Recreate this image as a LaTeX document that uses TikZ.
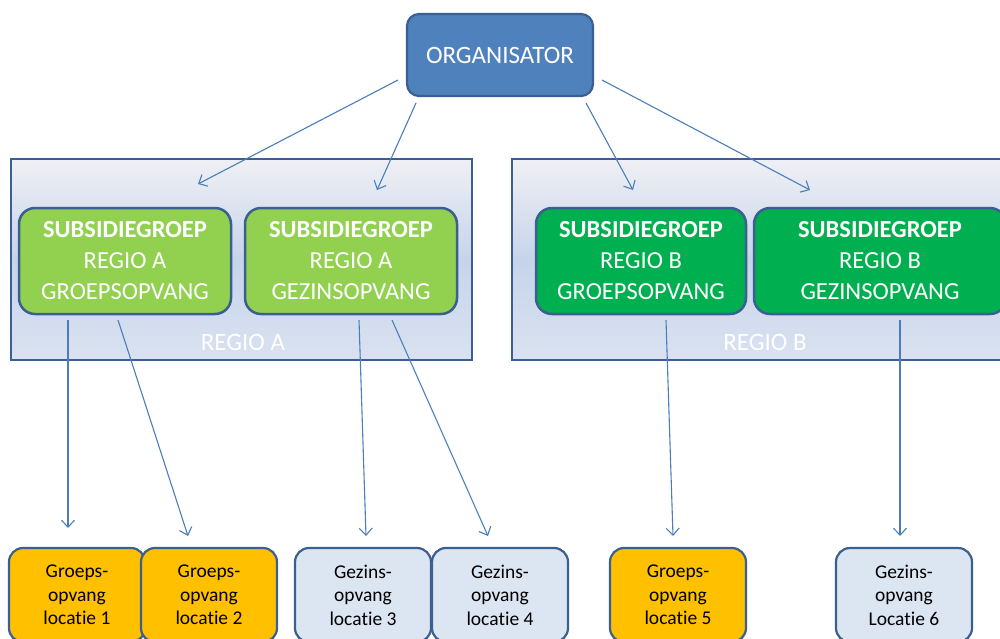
\documentclass[tikz,border=0pt]{standalone}
\usepackage{fontspec}
\setmainfont{Carlito}[Ligatures=NoCommon]
\usetikzlibrary{arrows.meta}
\definecolor{orgblue}{HTML}{4F81BD}
\definecolor{edgeblue}{HTML}{3C5F92}
\definecolor{lightgrn}{HTML}{92D050}
\definecolor{darkgrn}{HTML}{00B050}
\definecolor{amber}{HTML}{FFC000}
\definecolor{paleblue}{HTML}{DCE6F2}
\definecolor{regtop}{HTML}{EFF0F4}
\definecolor{regmid}{HTML}{C6D4EB}
\definecolor{regbot}{HTML}{DAE2F0}
\definecolor{arrowblue}{HTML}{4A7EBB}
\tikzset{
  orgbox/.style={draw=edgeblue,line width=2.2pt,fill=orgblue,rounded corners=12pt,
    minimum width=186pt,minimum height=82pt,text=white,
    font=\fontsize{25}{31}\selectfont},
  subbox/.style={draw=edgeblue,line width=2.5pt,rounded corners=16pt,
    minimum width=212pt,minimum height=106pt,text=white,align=center,inner sep=0pt,
    font=\fontsize{24.5}{31}\selectfont},
  regbox/.style={draw=edgeblue,line width=2pt,minimum height=201pt,inner sep=0pt,
    top color=regtop,bottom color=regbot,middle color=regmid},
  reglbl/.style={text=white,font=\fontsize{25}{31}\selectfont,inner sep=0pt},
  locbox/.style={draw=edgeblue,line width=2.2pt,rounded corners=14pt,
    minimum width=136pt,minimum height=94pt,align=center,inner sep=0pt,
    font=\fontsize{19.5}{23.5}\selectfont},
  conn/.style={draw=arrowblue,line width=1.1pt,-{Straight Barb[length=7pt,width=13pt]}}
}
\begin{document}
\begin{tikzpicture}[x=1pt,y=-1pt]
\clip (0,0) rectangle (1000,638);
\fill[white] (0,0) rectangle (1000,638);
% regions
\node[regbox,minimum width=461pt] (regA) at (241.5,259.5) {};
\node[regbox,minimum width=500pt] (regB) at (762,259.5) {};
\node[reglbl] (regAlbl) at (243,342) {REGIO A};
\node[reglbl] (regBlbl) at (765,342) {REGIO B};
% top
\node[orgbox] (org) at (500,55) {ORGANISATOR};
% subsidiegroepen
\node[subbox,fill=lightgrn] (subA1) at (125,261) {\textbf{SUBSIDIEGROEP}\\REGIO A\\GROEPSOPVANG};
\node[subbox,fill=lightgrn] (subA2) at (351,261) {\textbf{SUBSIDIEGROEP}\\REGIO A\\GEZINSOPVANG};
\node[subbox,fill=darkgrn,minimum width=210pt] (subB1) at (641,261) {\textbf{SUBSIDIEGROEP}\\REGIO B\\GROEPSOPVANG};
\node[subbox,fill=darkgrn,minimum width=252pt] (subB2) at (880,261) {\textbf{SUBSIDIEGROEP}\\REGIO B\\GEZINSOPVANG};
% locaties
\foreach \x/\name/\col/\txt in {77/loc1/amber/{Groeps-\\opvang\\locatie 1},
    209/loc2/amber/{Groeps-\\opvang\\locatie 2},
    363/loc3/paleblue/{Gezins-\\opvang\\locatie 3},
    500/loc4/paleblue/{Gezins-\\opvang\\locatie 4},
    678/loc5/amber/{Groeps-\\opvang\\locatie 5},
    904/loc6/paleblue/{Gezins-\\opvang\\Locatie 6}}
  \node[locbox,fill=\col] (\name) at (\x,595) {\txt};
% arrows
\foreach \i/\from/\to in {1/{398,80}/{198,184}, 2/{416,103}/{377,190},
    3/{586,103}/{633,190}, 4/{602,80}/{810,190},
    5/{68,320}/{68,528}, 6/{118,320}/{188,536},
    7/{359,320}/{366,536}, 8/{392,320}/{488,536},
    9/{666,320}/{673,536}, 10/{900,320}/{900,536}}{
  \coordinate (t\i) at (\from);
  \coordinate (h\i) at (\to);
  \draw[conn] (t\i) -- (h\i);
}
\end{tikzpicture}
\end{document}
